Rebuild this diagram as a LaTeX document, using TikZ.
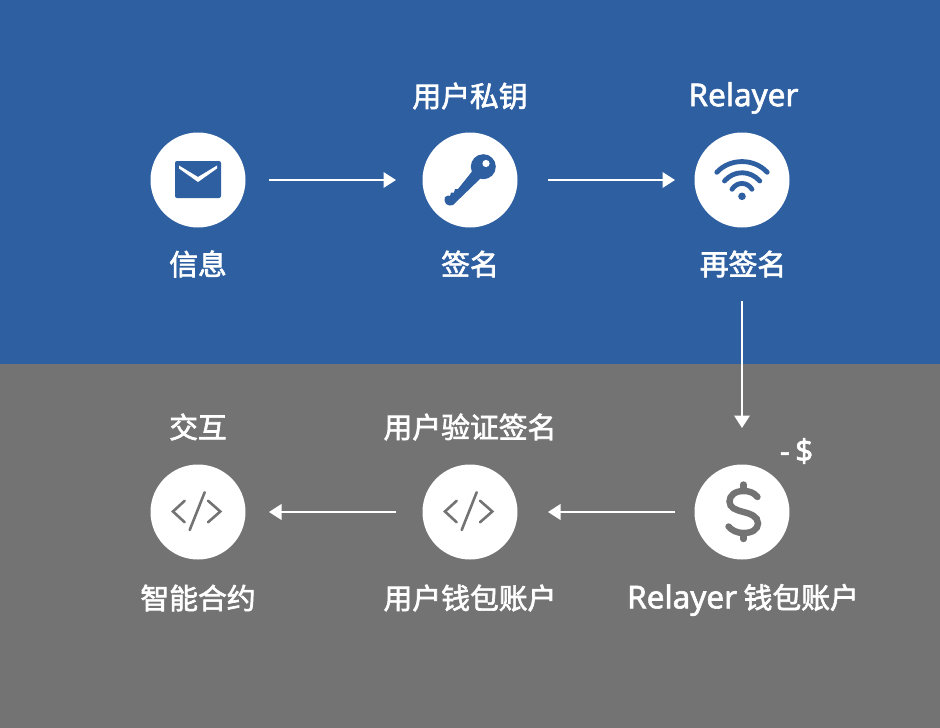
\documentclass[tikz,border=0pt]{standalone}
\usepackage{fontspec}
\usetikzlibrary{arrows.meta}
\newfontfamily\cjkf[FakeBold=2.2]{Noto Sans CJK SC}
\newfontfamily\latf[FakeBold=1.8]{Noto Sans}
\newcommand{\latsz}{\latf\fontsize{31.5}{33}\selectfont}
\definecolor{topblue}{HTML}{2E5FA1}
\definecolor{botgray}{HTML}{737373}
\tikzset{
  disc/.style={circle,fill=white,draw=none,minimum size=95pt,inner sep=0pt,outer sep=0pt},
  lbl/.style={text=white,font=\cjkf\fontsize{28.8}{31}\selectfont,inner sep=0pt,anchor=center},
  flow/.style={draw=white,line width=2pt,-{Triangle[length=12.5pt,width=15.5pt]}},
  codeicon/.style={draw=botgray,line width=2.6pt,line cap=round,line join=miter},
}
\begin{document}
\begin{tikzpicture}[x=1pt,y=-1pt]
\useasboundingbox (0,0) rectangle (940,728);
\fill[topblue] (0,0) rectangle (940,364);
\fill[botgray] (0,364) rectangle (940,728);
% discs
\node[disc] (c1) at (198,180) {};
\node[disc] (c2) at (470,180) {};
\node[disc] (c3) at (742,180) {};
\node[disc] (c4) at (742,512) {};
\node[disc] (c5) at (470,512) {};
\node[disc] (c6) at (198,512) {};
% labels
\node[lbl] (t2) at (470,96) {用户私钥};
\node[lbl] (t3) at (743.5,98) {\latsz Relayer};
\node[lbl] (b1) at (198,264) {信息};
\node[lbl] (b2) at (470,264) {签名};
\node[lbl] (b3) at (743,264) {再签名};
\node[lbl] (t6) at (198,427) {交互};
\node[lbl] (t5) at (470,427) {用户验证签名};
\node[lbl] (m4) at (796.5,451) {\latsz -\,\$};
\node[lbl] (b6) at (198,598) {智能合约};
\node[lbl] (b5) at (470,598) {用户钱包账户};
\node[lbl] (b4) at (743,600) {{\latsz Relayer} 钱包账户};
% connectors
\draw[flow,shorten <=23.5pt,shorten >=26.5pt] (c1) -- (c2);
\draw[flow,shorten <=30.5pt,shorten >=19.5pt] (c2) -- (c3);
\draw[flow,shorten <=73.5pt,shorten >=36.5pt] (c3) -- (c4);
\draw[flow,shorten <=19.5pt,shorten >=30.5pt] (c4) -- (c5);
\draw[flow,shorten <=26.5pt,shorten >=23.5pt] (c5) -- (c6);
% envelope
\fill[topblue,rounded corners=2pt] (175,161) rectangle (221,198);
\fill[white] (179,165.5) -- (198,177) -- (217,165.5) -- (217,168.5) -- (198,182) -- (179,168.5) -- cycle;
% key
\fill[topblue] (483.3,166.7) circle[radius=12.5];
\fill[topblue] (474,169) -- (482,177) -- (453,205) -- (449.5,205.5) -- (446,204)
  -- (444.5,200.5) -- (445,197) -- (448,195.5) -- (450,196) -- (451,192.5) -- (454,192.5) -- (455,189) -- (458,189) -- cycle;
\fill[white] (486,163.5) circle[radius=3.6];
% wifi
\fill[topblue] (742,196.3) circle[radius=3.8];
\draw[topblue,line width=4.8pt,line cap=round] (716.8,172.3) .. controls (730,158) and (754,158) .. (767.2,172.3);
\draw[topblue,line width=4.8pt,line cap=round] (724.5,181) .. controls (734,170) and (750,170) .. (759.8,181);
\draw[topblue,line width=4.8pt,line cap=round] (732,189.3) .. controls (737,181.5) and (747,181.5) .. (752,189.3);
% dollar
\draw[botgray,line width=6.4pt,line cap=round]
  (757.5,497) .. controls (754,492.5) and (749,491) .. (743.5,491)
  .. controls (735,491) and (729.5,495.5) .. (729.5,501.5)
  .. controls (729.5,508) and (736,510) .. (743.5,512)
  .. controls (751,514) and (758,516.5) .. (758,523.5)
  .. controls (758,529.5) and (752,533) .. (743.5,533)
  .. controls (737,533) and (732,530.5) .. (728.5,526.5);
\draw[botgray,line width=6.4pt,line cap=round] (743.5,484.5) -- (743.5,491);
\draw[botgray,line width=6.4pt,line cap=round] (743.5,533) -- (743.5,539);
% code icons
\foreach \cx in {470,198}{
  \draw[codeicon] (\cx-13.3,500.7) -- (\cx-25,511.5) -- (\cx-13.3,522.3);
  \draw[codeicon] (\cx+10,500.7) -- (\cx+22.3,511.5) -- (\cx+10,522.3);
  \draw[codeicon] (\cx+6.7,492.3) -- (\cx-8.3,530);
}
\end{tikzpicture}
\end{document}
